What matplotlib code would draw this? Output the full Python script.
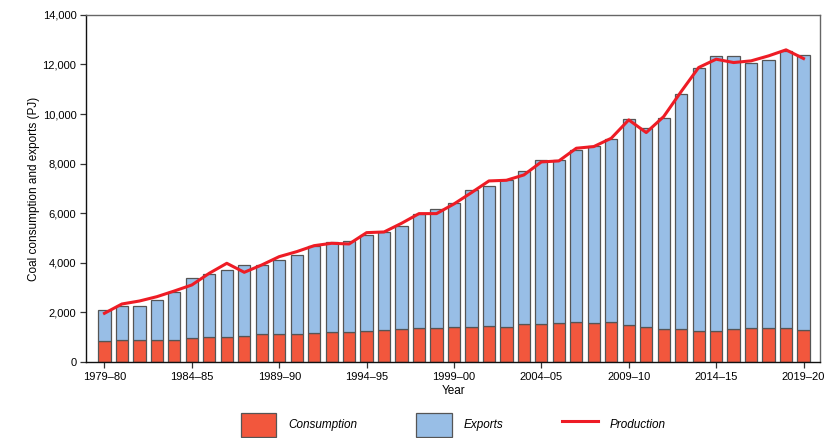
import numpy as np
import matplotlib.pyplot as plt

plt.rcParams['font.family'] = ['Liberation Sans', 'DejaVu Sans']

# Données (PJ)
years = [f'{y}–{(y + 1) % 100:02d}' for y in range(1979, 2020)]
consumption = [835, 888, 875, 875, 900, 955, 995, 1022, 1049, 1116,
               1130, 1130, 1157, 1197, 1224, 1264, 1291, 1318, 1358, 1372,
               1399, 1426, 1466, 1426, 1520, 1547, 1574, 1600, 1560, 1600,
               1493, 1412, 1332, 1318, 1251, 1251, 1345, 1372, 1372, 1358,
               1291]
total = [2098, 2247, 2247, 2488, 2810, 3376, 3551, 3725, 3927, 3927,
         4103, 4330, 4693, 4855, 4869, 5124, 5232, 5474, 5985, 6174,
         6402, 6940, 7088, 7357, 7707, 8151, 8151, 8541, 8729, 8985,
         9805, 9455, 9859, 10800, 11850, 12347, 12347, 12078, 12186, 12563,
         12375]
production = [1965, 2340, 2460, 2635, 2865, 3107, 3580, 3981, 3618, 3914,
              4250, 4451, 4693, 4788, 4761, 5218, 5245, 5595, 5985, 5985,
              6375, 6832, 7303, 7330, 7545, 8070, 8110, 8622, 8689, 9025,
              9765, 9254, 9899, 10908, 11877, 12213, 12078, 12146, 12347, 12590,
              12240]
exports = [t - c for t, c in zip(total, consumption)]

x = np.arange(len(years))

fig = plt.figure(figsize=(8.36, 4.38), dpi=100)
ax = fig.add_axes([0.103, 0.1735, 0.878, 0.7925])

edge = '#555555'
b1 = ax.bar(x, consumption, 0.7, color='#F2573D', edgecolor=edge, linewidth=0.9,
            label='Consumption')
b2 = ax.bar(x, exports, 0.7, bottom=consumption, color='#98BEE6', edgecolor=edge,
            linewidth=0.9, label='Exports')
l1, = ax.plot(x, production, color='#EE1C25', linewidth=2.2, label='Production')

ax.set_xlim(-1.05, 40.95)
ax.set_ylim(0, 14000)
ax.set_yticks(np.arange(0, 14001, 2000))
ax.set_yticklabels([f'{v:,}' for v in range(0, 14001, 2000)])
ax.set_xticks(x[::5])
ax.set_xticklabels(years[::5])
ax.tick_params(labelsize=8, length=4, width=0.9, color='#333333', pad=3)

ax.spines['left'].set_color('#111111')
ax.spines['bottom'].set_color('#111111')
ax.spines['top'].set_color('#666666')
ax.spines['right'].set_color('#666666')
for s in ax.spines.values():
    s.set_linewidth(1.0)

ax.set_ylabel('Coal consumption and exports (PJ)', fontsize=8.5, labelpad=2)
ax.set_xlabel('Year', fontsize=8.5, labelpad=2)

fig.legend([b1, b2, l1], ['Consumption', 'Exports', 'Production'],
           loc='center', bbox_to_anchor=(0.542, 0.03), ncol=3,
           frameon=False, handlelength=3.0, handleheight=2.75,
           columnspacing=5.0, handletextpad=1.0,
           prop={'size': 8.5, 'style': 'italic'})

plt.savefig('out.png', dpi=100)
